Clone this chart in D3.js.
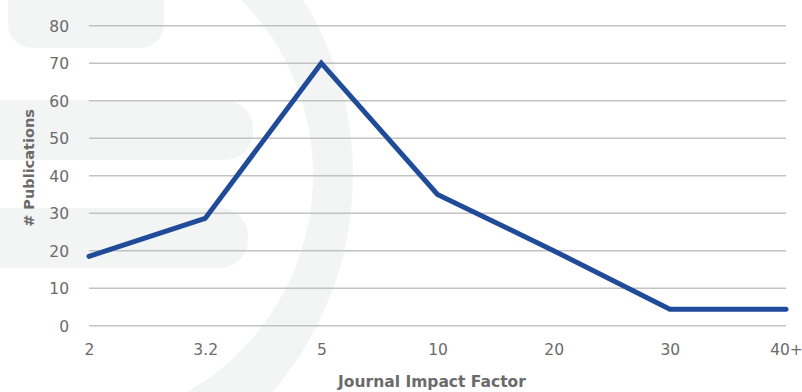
<!DOCTYPE html>
<html>
<head>
<meta charset="utf-8">
<script src="https://cdn.jsdelivr.net/npm/d3@7"></script>
<style>
  html, body { margin: 0; padding: 0; background: #ffffff; }
  svg { display: block; }
</style>
</head>
<body>
<svg id="chart" width="802" height="392"></svg>
<script>
// Publications per journal impact factor bucket
const categories = ["2", "3.2", "5", "10", "20", "30", "40+"];
const publications = [18.5, 28.6, 70, 35, 20, 4.4, 4.4];
const yTicks = [0, 10, 20, 30, 40, 50, 60, 70, 80];

const W = 802, H = 392;
const svg = d3.select("#chart");

const tickFont = "DejaVu Sans, sans-serif";
const textGray = "#6b6b6b";
const shade = "#f3f4f4";

// Decorative background shapes
const bg = svg.append("g");
bg.append("rect").attr("x", 8).attr("y", -24).attr("width", 156).attr("height", 72)
  .attr("rx", 24).attr("fill", shade);
bg.append("rect").attr("x", -40).attr("y", 100).attr("width", 293).attr("height", 60)
  .attr("rx", 28).attr("fill", shade);
bg.append("rect").attr("x", -40).attr("y", 208).attr("width", 288).attr("height", 60)
  .attr("rx", 28).attr("fill", shade);

// Large arc band (ring between two offset circles)
function circlePath(cx, cy, r) {
  const p = d3.path();
  p.moveTo(cx + r, cy);
  p.arc(cx, cy, r, 0, 2 * Math.PI);
  p.closePath();
  return p.toString();
}
bg.append("path")
  .attr("d", circlePath(20, 175, 333) + circlePath(63, 175, 250))
  .attr("fill-rule", "evenodd")
  .attr("fill", shade);

// Scales
const x = d3.scalePoint().domain(categories).range([89, 786]);
const y = d3.scaleLinear().domain([0, 80]).range([325.7, 25.7]);

// Horizontal gridlines
svg.append("g").selectAll("line").data(yTicks).join("line")
  .attr("x1", 89).attr("x2", 786)
  .attr("y1", d => y(d)).attr("y2", d => y(d))
  .attr("stroke", "#c2c2c2").attr("stroke-width", 1.5);

// Y axis
const yAxis = svg.append("g").attr("transform", "translate(69,0)")
  .call(d3.axisLeft(y).tickValues(yTicks).tickSize(0).tickPadding(0));
yAxis.select(".domain").remove();
yAxis.selectAll("text")
  .attr("font-family", tickFont).attr("font-size", 15.5)
  .attr("fill", textGray).attr("dy", "0.36em");

// X axis
const xAxis = svg.append("g").attr("transform", "translate(0,355)")
  .call(d3.axisBottom(x).tickSize(0).tickPadding(0));
xAxis.select(".domain").remove();
xAxis.selectAll("text")
  .attr("font-family", tickFont).attr("font-size", 15.5)
  .attr("fill", textGray).attr("dy", 0);

// Axis titles
svg.append("text")
  .attr("transform", "translate(34,168) rotate(-90)")
  .attr("text-anchor", "middle")
  .attr("font-family", tickFont).attr("font-weight", "bold").attr("font-size", 14.5)
  .attr("fill", textGray)
  .text("# Publications");

svg.append("text")
  .attr("x", 432).attr("y", 387)
  .attr("text-anchor", "middle")
  .attr("font-family", tickFont).attr("font-weight", "bold").attr("font-size", 15.5)
  .attr("fill", textGray)
  .text("Journal Impact Factor");

// Series line
const line = d3.line()
  .x((d, i) => x(categories[i]))
  .y(d => y(d));

svg.append("path")
  .datum(publications)
  .attr("d", line)
  .attr("fill", "none")
  .attr("stroke", "#1f4b99")
  .attr("stroke-width", 5)
  .attr("stroke-linejoin", "miter")
  .attr("stroke-linecap", "round");
</script>
</body>
</html>
